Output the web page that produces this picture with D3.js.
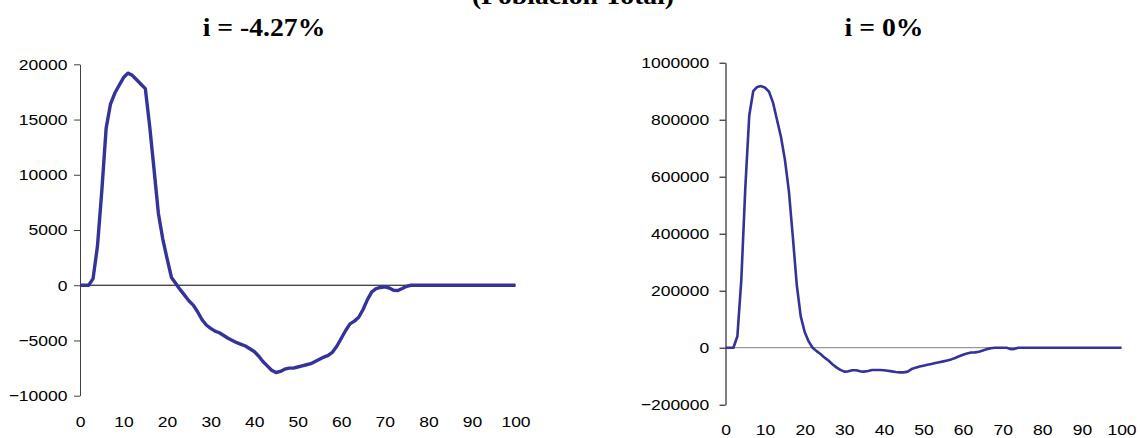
<!DOCTYPE html>
<html>
<head>
<meta charset="utf-8">
<script src="https://cdn.jsdelivr.net/npm/d3@7"></script>
<style>
  body { margin: 0; background: #fff; }
  text { fill: #000; }
</style>
</head>
<body>
<svg id="chart" width="1140" height="438"></svg>
<script>
// ages 0..100 on the x axis
const ages = d3.range(0, 101);
const xTicks = [0, 10, 20, 30, 40, 50, 60, 70, 80, 90, 100];

// i = -4.27%
const seriesNeg = [
  0, 0, 0, 600, 3500, 8500, 14200, 16400, 17400, 18100,
  18800, 19200, 19000, 18600, 18200, 17800, 14400, 10500, 6500, 4200,
  2400, 700, 150, -400, -900, -1400, -1800, -2400, -3100, -3600,
  -3900, -4150, -4300, -4550, -4800, -5000, -5200, -5350, -5500, -5750,
  -6000, -6400, -6900, -7300, -7700, -7900, -7800, -7600, -7500, -7500,
  -7400, -7300, -7200, -7100, -6900, -6700, -6500, -6350, -6050, -5500,
  -4800, -4100, -3500, -3250, -2900, -2200, -1300, -600, -300, -200,
  -150, -250, -450, -480, -300, -100, 0, 0, 0, 0,
  0, 0, 0, 0, 0, 0, 0, 0, 0, 0,
  0, 0, 0, 0, 0, 0, 0, 0, 0, 0,
  0
];
const ticksNeg = [-10000, -5000, 0, 5000, 10000, 15000, 20000];

// i = 0%
const seriesZero = [
  0, 0, 0, 40000, 240000, 560000, 815000, 900000, 915000, 918000,
  912000, 898000, 860000, 800000, 740000, 660000, 550000, 390000, 220000, 110000,
  55000, 22000, 0, -12000, -22000, -35000, -45000, -58000, -69000, -78000,
  -84000, -83000, -79000, -79000, -83000, -84000, -82000, -78000, -78000, -78000,
  -79000, -81000, -83000, -85000, -86500, -86500, -84000, -75000, -70000, -66000,
  -63000, -60000, -57000, -54000, -51000, -48000, -45000, -41000, -36000, -30000,
  -25000, -20000, -17000, -16500, -14000, -10000, -5000, -2000, 0, 0,
  0, 0, -5000, -4000, 0, 0, 0, 0, 0, 0,
  0, 0, 0, 0, 0, 0, 0, 0, 0, 0,
  0, 0, 0, 0, 0, 0, 0, 0, 0, 0,
  0
];
const ticksZero = [-200000, 0, 200000, 400000, 600000, 800000, 1000000];

const svg = d3.select("#chart");
const stretch = 1.13;   // source text is drawn wider than its height
const tickFont = '15.5px "Liberation Sans", Arial, sans-serif';
const titleFont = 'bold 24.5px "Liberation Serif", "Times New Roman", serif';

function title(txt, cx, y) {
  svg.append("g")
    .attr("transform", "translate(" + cx + "," + y + ")")
    .append("text")
      .attr("transform", "scale(" + stretch + ",1)")
      .attr("text-anchor", "middle")
      .style("font", titleFont)
      .text(txt);
}

// panel: one little line chart
function panel(opt) {
  const x = d3.scaleLinear().domain([0, 100]).range(opt.xRange);
  const y = d3.scaleLinear().domain(opt.yDomain).range(opt.yRange);

  // y axis
  const ya = svg.append("g")
    .attr("transform", "translate(" + opt.xRange[0] + ",0)")
    .call(d3.axisLeft(y).tickValues(opt.yTicks).tickSize(6).tickSizeOuter(0).tickFormat(d3.format("d")));
  ya.select(".domain").attr("stroke", opt.axisColor);
  ya.selectAll(".tick line").attr("stroke", opt.axisColor);
  ya.selectAll("text")
    .attr("x", -opt.labelGap / stretch)
    .attr("transform", "scale(" + stretch + ",1)")
    .style("font", tickFont);

  // zero line
  svg.append("line")
    .attr("x1", x(0)).attr("x2", x(100))
    .attr("y1", y(0)).attr("y2", y(0))
    .attr("stroke", opt.zeroColor)
    .attr("stroke-width", 1);

  // x labels, no axis line
  const xa = svg.append("g")
    .attr("transform", "translate(0," + opt.xLabelY + ")")
    .call(d3.axisBottom(x).tickValues(xTicks).tickSize(0));
  xa.select(".domain").remove();
  xa.selectAll("text")
    .attr("y", 0).attr("dy", null)
    .attr("transform", "scale(" + stretch + ",1)")
    .style("font", tickFont);

  const line = d3.line()
    .x((d, i) => x(ages[i]))
    .y(d => y(d));

  svg.append("path")
    .datum(opt.values)
    .attr("d", line)
    .attr("fill", "none")
    .attr("stroke", "#333399")
    .attr("stroke-width", opt.lineWidth)
    .attr("stroke-linejoin", "round");
}

panel({
  values: seriesNeg,
  xRange: [80, 515.5],
  yDomain: [-10000, 20000],
  yRange: [395.7, 64.3],
  yTicks: ticksNeg,
  labelGap: 12.5,
  xLabelY: 426.5,
  axisColor: "#404040",
  zeroColor: "#000",
  lineWidth: 3.4
});

panel({
  values: seriesZero,
  xRange: [725.5, 1121.5],
  yDomain: [-200000, 1000000],
  yRange: [404.7, 62.7],
  yTicks: ticksZero,
  labelGap: 16.2,
  xLabelY: 434.5,
  axisColor: "#000",
  zeroColor: "#808080",
  lineWidth: 2.6
});

title("(Población Total)", 573, 4);
title("i = -4.27%", 264, 36);
title("i = 0%", 884, 36);
</script>
</body>
</html>
